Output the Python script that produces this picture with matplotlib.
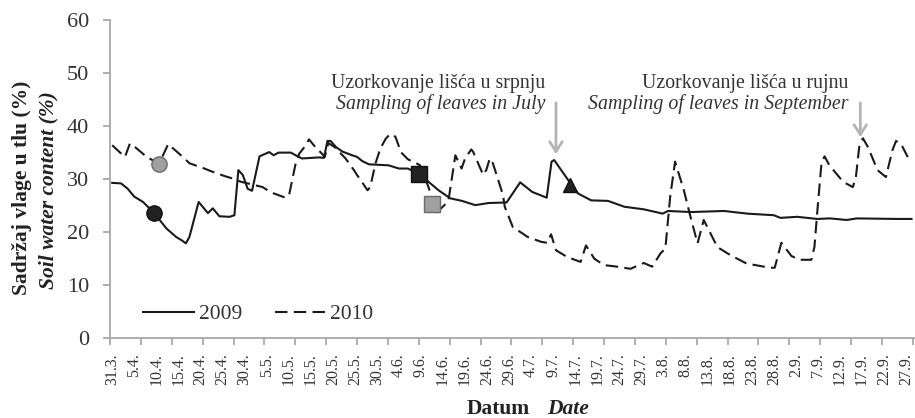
import matplotlib
matplotlib.use("Agg")
import matplotlib.pyplot as plt
from matplotlib.ticker import FixedLocator, NullFormatter

# dan od 31.3. -> sadrzaj vlage (%)
days_2009 = [0, 2, 3.5, 5, 7, 9.5, 12.3, 14.5, 15.7, 16.7, 17.5, 19.6, 21.7, 22.8, 24.3,
             26.6, 27.7, 28.6, 29.6, 30.7, 31.7, 33.4, 35.6, 36.6, 37.7, 40.5, 41.6, 43,
             47, 48, 48.8, 49.5, 50.8, 52.2, 54.4, 55.5, 56.7, 58.2, 62.7, 65, 67, 69.5,
             71.7, 74, 76.6, 79.3, 82.3, 85.3, 89.4, 92.5, 95.2, 98.5, 99.6, 100.2, 103.4,
             105.6, 108.6, 112.4, 116.1, 120.6, 124.8, 126, 131.2, 138.7, 144, 150, 151.5,
             155.3, 159.8, 162.8, 166.5, 168.8, 177.8, 181.2]
moist_2009 = [29.3, 29.2, 28.2, 26.7, 25.7, 23.6, 20.7, 19.1, 18.5, 17.9, 19.1, 25.7, 23.6,
              24.5, 23.0, 22.9, 23.2, 31.7, 30.8, 28.2, 27.8, 34.3, 35.1, 34.5, 35.0, 35.0,
              34.5, 33.9, 34.1, 34.0, 37.2, 37.2, 36.0, 35.2, 34.5, 34.2, 33.4, 32.8, 32.6,
              32.0, 32.0, 31.1, 29.5, 27.9, 26.4, 25.9, 25.1, 25.5, 25.6, 29.4, 27.6, 26.5,
              33.3, 33.6, 29.8, 27.3, 26.0, 25.9, 24.8, 24.3, 23.5, 24.0, 23.8, 24.0, 23.5,
              23.2, 22.7, 22.9, 22.5, 22.6, 22.3, 22.6, 22.5, 22.5]

days_2010 = [0, 1.8, 2.9, 4, 5.1, 7.8, 10.6, 12.7, 13.8, 16.4, 17.5, 20.9, 22.4, 25.4, 27,
             29.2, 32.2, 34.1, 36, 39.3, 40.1, 41.6, 42.4, 43.9, 44.6, 46.5, 47.2, 48.2,
             49, 50.5, 52.9, 54.8, 55.5, 57.4, 57.9, 58.5, 59.7, 60.8, 62, 63, 64.2, 64.9,
             65.3, 67.1, 68.3, 69.8, 71.7, 72.4, 73.3, 76.2, 77.8, 79.2, 80, 81.4, 81.8,
             84.1, 84.8, 85.6, 86.3, 88.6, 89, 90.8, 94.2, 97.2, 98.6, 99.5, 100.6, 103.2,
             106.2, 107.4, 109.3, 111.5, 114.5, 117.5, 120.5, 122.4, 124.3, 125.4, 126.5,
             127.6, 129.6, 131.1, 132.7, 134.1, 137.2, 140.1, 143.8, 149.1, 150.2, 151.7,
             154, 155.9, 158.5, 159.2, 160, 160.8, 161.5, 162.6, 165.7, 167.9, 168.6, 169.4,
             170.2, 171.3, 173.5, 175.4, 176.9, 177.7, 178.8, 180.7, 181.3]
moist_2010 = [36.4, 35.0, 34.2, 36.7, 36.1, 34.2, 32.9, 36.6, 35.8, 33.9, 33.0, 32.0, 31.5,
              30.6, 30.2, 29.5, 28.9, 28.5, 27.5, 26.5, 27.0, 33.0, 34.8, 36.4, 37.5, 35.6,
              35.1, 34.2, 36.8, 36.0, 33.9, 31.7, 30.8, 28.5, 27.9, 28.5, 33.0, 35.8, 37.6,
              38.5, 38.0, 36.4, 35.2, 33.7, 33.3, 32.6, 28.5, 26.7, 23.5, 25.8, 34.5, 32.0,
              33.9, 35.6, 35.2, 30.8, 31.7, 33.9, 33.0, 27.0, 24.8, 21.0, 19.1, 18.2, 18.0,
              19.6, 16.6, 15.3, 14.4, 17.5, 15.0, 13.8, 13.5, 13.1, 14.2, 13.5, 16.0, 16.9,
              26.7, 33.3, 27.9, 22.9, 17.9, 22.3, 17.2, 15.7, 14.1, 13.3, 13.3, 18.0, 15.5,
              14.8, 14.8, 17.2, 25.4, 33.0, 34.3, 32.6, 29.5, 28.5, 30.4, 36.4, 37.7, 36.1,
              31.7, 30.4, 35.5, 37.2, 36.7, 33.6, 33.4]

# uzorkovanja: 2009 (crno) i 2010 (sivo)
sample_days_2009 = [9.5, 69.6, 103.7]
sample_vals_2009 = [23.6, 30.9, 28.9]
sample_days_2010 = [10.6, 72.6]
sample_vals_2010 = [32.8, 25.4]

date_labels = ["31.3.", "5.4.", "10.4.", "15.4.", "20.4.", "25.4.", "30.4.", "5.5.",
               "10.5.", "15.5.", "20.5.", "25.5.", "30.5.", "4.6.", "9.6.", "14.6.",
               "19.6.", "24.6.", "29.6.", "4.7.", "9.7.", "14.7.", "19.7.", "24.7.",
               "29.7.", "3.8.", "8.8.", "13.8.", "18.8.", "23.8.", "28.8.", "2.9.",
               "7.9.", "12.9.", "17.9.", "22.9.", "27.9."]

W, H = 915, 418
serif = "Liberation Serif"
plt.rcParams["font.family"] = serif
grey = "#a8a8a8"
txt = "#333333"

fig = plt.figure(figsize=(W / 100, H / 100), dpi=100)
ax = fig.add_axes([110 / W, (H - 338.3) / H, (W - 110) / W, 318.3 / H])

l09, = ax.plot(days_2009, moist_2009, color="#1a1a1a", lw=1.5, label="2009")
l10, = ax.plot(days_2010, moist_2010, color="#1a1a1a", lw=1.5, dashes=(6, 3),
               label="2010")

ax.plot(sample_days_2009[0], sample_vals_2009[0], "o", ms=11, mfc="#222222", mec="#111111")
ax.plot(sample_days_2009[1], sample_vals_2009[1], "s", ms=11.5, mfc="#222222", mec="#111111")
ax.plot(sample_days_2009[2], sample_vals_2009[2], "^", ms=10, mfc="#222222", mec="#111111")
ax.plot(sample_days_2010[0], sample_vals_2010[0], "o", ms=11, mfc="#a0a0a0", mec="#6a6a6a")
ax.plot(sample_days_2010[1], sample_vals_2010[1], "s", ms=11, mfc="#a0a0a0", mec="#6a6a6a")

ax.set_xlim(-0.5, 182)
ax.set_ylim(0, 60)
ax.set_yticks(range(0, 61, 10))
for sp in ["top", "right"]:
    ax.spines[sp].set_visible(False)
for sp in ["left", "bottom"]:
    ax.spines[sp].set_color(grey)
    ax.spines[sp].set_linewidth(1.3)

ax.tick_params(axis="y", colors=grey, labelcolor=txt, labelsize=16, length=5, width=1.3, pad=10)
ax.set_xticks([5 * i for i in range(len(date_labels))])
ax.set_xticklabels(date_labels, rotation=90, fontsize=11.5, color=txt)
ax.tick_params(axis="x", which="major", length=0, pad=11)
ax.xaxis.set_minor_locator(FixedLocator([-0.5 + 7 * k for k in range(27)]))
ax.xaxis.set_minor_formatter(NullFormatter())
ax.tick_params(axis="x", which="minor", length=5, width=1.3, color=grey)

leg = ax.legend(handles=[l09, l10], ncol=2, frameon=False, fontsize=15.5,
                loc="center left", bbox_to_anchor=(143 / W, 1 - 314 / H),
                bbox_transform=fig.transFigure, borderpad=0, borderaxespad=0,
                handlelength=2.35, handletextpad=0.25, columnspacing=1.5)
for t in leg.get_texts():
    t.set_color(txt)

# strelice za uzorkovanje
arrow = dict(arrowstyle="->,head_length=0.7,head_width=0.45", color="#b4b4b4", lw=2)
ax.annotate("", xy=(100.6, 34.2), xytext=(100.6, 44.9), arrowprops=arrow)
ax.annotate("", xy=(169.6, 37.4), xytext=(169.6, 44.9), arrowprops=arrow)

fig.text(545 / W, 1 - 88 / H, "Uzorkovanje lišća u srpnju", ha="right", va="baseline",
         fontsize=14.3, color=txt)
fig.text(545 / W, 1 - 109 / H, "Sampling of leaves in July", ha="right", va="baseline",
         fontsize=14.3, style="italic", color=txt)
fig.text(848 / W, 1 - 88 / H, "Uzorkovanje lišća u rujnu", ha="right", va="baseline",
         fontsize=14.3, color=txt)
fig.text(848 / W, 1 - 109 / H, "Sampling of leaves in September", ha="right",
         va="baseline", fontsize=14.3, style="italic", color=txt)

fig.text(22 / W, 1 - 187.5 / H, "Sadržaj vlage u tlu (%)", rotation=90, ha="center",
         va="center", fontsize=15.5, weight="bold", color="#222222")
fig.text(48 / W, 1 - 190 / H, "Soil water content (%)", rotation=90, ha="center",
         va="center", fontsize=15.5, weight="bold", style="italic", color="#222222")

fig.text(467 / W, 1 - 414 / H, "Datum", ha="left", va="baseline", fontsize=15.5,
         weight="bold", color="#222222")
fig.text(547 / W, 1 - 414 / H, "Date", ha="left", va="baseline", fontsize=15.5,
         weight="bold", style="italic", color="#222222")

fig.savefig("out.png", dpi=100)
